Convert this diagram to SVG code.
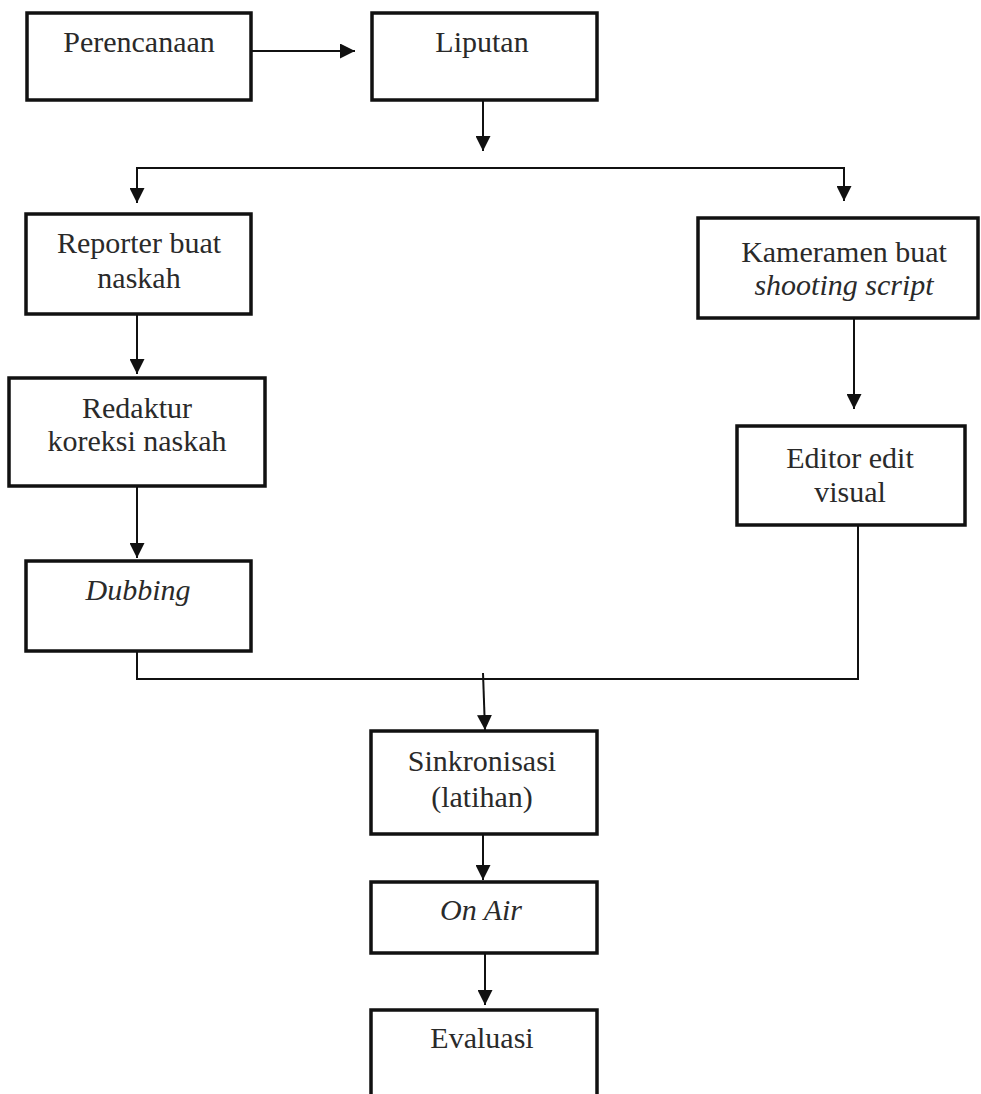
<svg xmlns="http://www.w3.org/2000/svg" width="981" height="1094" viewBox="0 0 981 1094">
<style>
.box{fill:#fff;stroke:#111;stroke-width:3.5}
.t{font-family:"Liberation Serif","Times New Roman",serif;font-size:30px;fill:#2a2a2a;text-anchor:middle}
.i{font-style:italic}
.c{fill:none;stroke:#111;stroke-width:2}
</style>
<defs>
<marker id="ah" markerUnits="userSpaceOnUse" markerWidth="15" markerHeight="15" refX="15" refY="7.5" orient="auto">
<path d="M0,0 L15,7.5 L0,15 z" fill="#111"/>
</marker>
</defs>
<rect width="981" height="1094" fill="#fff"/>
<g id="connectors">
<line class="c" x1="251" y1="51" x2="355" y2="51" marker-end="url(#ah)"/>
<line class="c" x1="483" y1="100" x2="483" y2="151" marker-end="url(#ah)"/>
<polyline class="c" points="137,202 137,168 844,168 844,200"/>
<line class="c" x1="137" y1="168" x2="137" y2="203" marker-end="url(#ah)"/>
<line class="c" x1="844" y1="168" x2="844" y2="201" marker-end="url(#ah)"/>
<line class="c" x1="137" y1="314" x2="137" y2="374" marker-end="url(#ah)"/>
<line class="c" x1="137" y1="486" x2="137" y2="558" marker-end="url(#ah)"/>
<line class="c" x1="854" y1="318" x2="854" y2="409" marker-end="url(#ah)"/>
<polyline class="c" points="137,651 137,679 858,679 858,525"/>
<line class="c" x1="483" y1="673" x2="485" y2="730" marker-end="url(#ah)"/>
<line class="c" x1="483" y1="834" x2="483" y2="880" marker-end="url(#ah)"/>
<line class="c" x1="485" y1="948" x2="485" y2="1005" marker-end="url(#ah)"/>
</g>
<g id="perencanaan"><rect class="box" x="27" y="13" width="224" height="87"/><text class="t" x="139" y="52">Perencanaan</text></g>
<g id="liputan"><rect class="box" x="372" y="13" width="225" height="87"/><text class="t" x="482" y="52">Liputan</text></g>
<g id="reporter"><rect class="box" x="26" y="214" width="225" height="100"/><text class="t" x="139" y="253">Reporter buat</text><text class="t" x="139" y="288">naskah</text></g>
<g id="redaktur"><rect class="box" x="9" y="378" width="256" height="108"/><text class="t" x="137" y="418">Redaktur</text><text class="t" x="137" y="451">koreksi naskah</text></g>
<g id="dubbing"><rect class="box" x="26" y="561" width="225" height="90"/><text class="t i" x="138" y="600">Dubbing</text></g>
<g id="kameramen"><rect class="box" x="698" y="218" width="280" height="100"/><text class="t" x="844" y="262">Kameramen buat</text><text class="t i" x="844" y="295">shooting script</text></g>
<g id="editor"><rect class="box" x="737" y="426" width="228" height="99"/><text class="t" x="850" y="468">Editor edit</text><text class="t" x="850" y="502">visual</text></g>
<g id="sinkronisasi"><rect class="box" x="371" y="731" width="226" height="103"/><text class="t" x="482" y="771">Sinkronisasi</text><text class="t" x="482" y="807">(latihan)</text></g>
<g id="onair"><rect class="box" x="371" y="882" width="226" height="71"/><text class="t i" x="481" y="920">On Air</text></g>
<g id="evaluasi"><rect class="box" x="371" y="1010" width="226" height="100"/><text class="t" x="482" y="1048">Evaluasi</text></g>
</svg>
